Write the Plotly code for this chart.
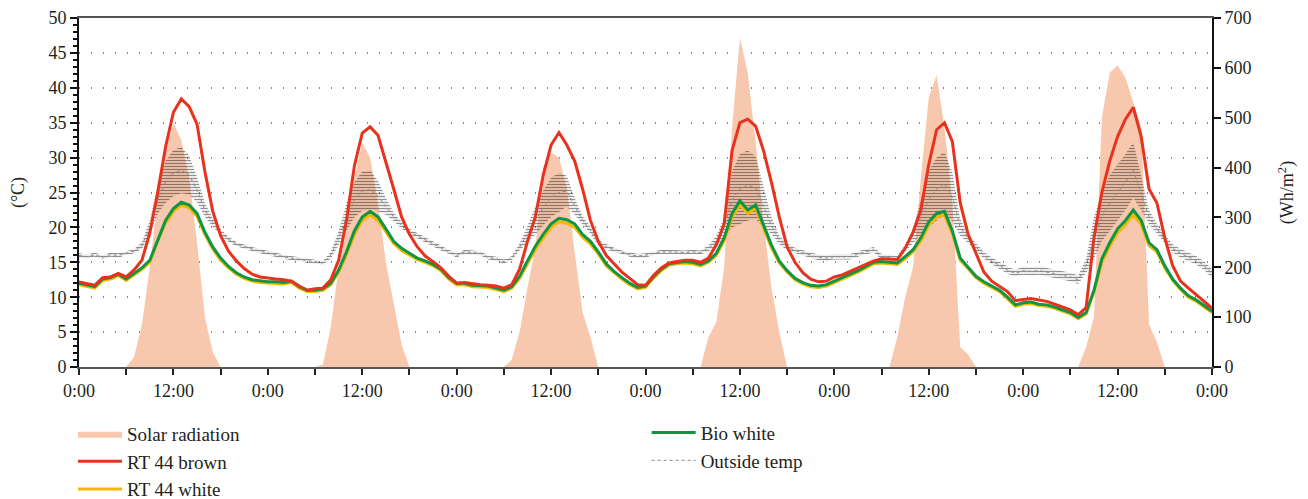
import plotly.graph_objects as go

# x positions: hours since the first midnight (6 days, hourly readings)
hours = list(range(145))

# time-axis ticks: labels every 12 h, minor ticks every 6 h
tick_hours = list(range(0, 145, 12))
tick_labels = ["0:00", "12:00"] * 6 + ["0:00"]
minor_tick_hours = list(range(6, 145, 12))

# Solar radiation (Wh/m2), right axis
solar = [
    0, 0, 0, 0, 0, 0, 0, 20, 85, 200, 340, 430, 490, 455, 380, 250, 100, 30, 0, 0, 0, 0, 0, 0,
    0, 0, 0, 0, 0, 0, 0, 5, 80, 200, 275, 380, 450, 420, 330, 210, 130, 45, 0, 0, 0, 0, 0, 0,
    0, 0, 0, 0, 0, 0, 0, 15, 70, 160, 240, 400, 430, 420, 360, 230, 110, 60, 0, 0, 0, 0, 0, 0,
    0, 0, 0, 0, 0, 0, 0, 0, 60, 90, 200, 480, 660, 590, 450, 290, 160, 70, 0, 0, 0, 0, 0, 0,
    0, 0, 0, 0, 0, 0, 0, 0, 60, 140, 200, 380, 540, 585, 480, 330, 40, 25, 0, 0, 0, 0, 0, 0,
    0, 0, 0, 0, 0, 0, 0, 0, 40, 100, 500, 590, 605, 580, 530, 480, 85, 50, 0, 0, 0, 0, 0, 0,
    0,
]

# RT 44 brown (degC)
rt44_brown = [
    12.2, 12.0, 11.7, 12.8, 12.9, 13.4, 12.9, 13.9, 15.3, 19.2, 25.0, 31.5, 36.5, 38.4, 37.3, 34.8, 28.0, 22.3, 18.8, 16.6, 15.2, 14.1, 13.3, 12.9,
    12.7, 12.6, 12.5, 12.3, 11.6, 11.0, 11.2, 11.3, 12.5, 15.3, 21.0, 28.8, 33.5, 34.4, 33.2, 29.5, 25.5, 21.5, 19.0, 17.2, 15.9, 15.1, 14.2, 13.0,
    12.0, 12.1, 11.9, 11.8, 11.7, 11.6, 11.3, 11.8, 14.0, 18.0, 21.5, 27.5, 31.8, 33.6, 31.8, 29.5, 25.5, 21.0, 18.0, 16.0, 14.8, 13.6, 12.7, 11.8,
    11.7, 13.1, 14.2, 14.9, 15.1, 15.3, 15.3, 15.0, 15.6, 17.5, 20.5, 31.0, 35.0, 35.5, 34.5, 31.0, 26.5, 21.5, 17.2, 15.0, 13.5, 12.6, 12.2, 12.3,
    12.9, 13.2, 13.7, 14.2, 14.6, 15.2, 15.5, 15.4, 15.4, 17.0, 19.3, 22.5, 29.0, 34.0, 35.0, 32.3, 23.5, 19.0, 16.2, 13.6, 12.3, 11.6, 10.8, 9.5,
    9.6, 9.8, 9.6, 9.4, 9.0, 8.6, 8.2, 7.5, 8.5, 18.5, 25.0, 29.5, 33.0, 35.5, 37.2, 33.0, 25.5, 23.5, 18.5, 14.5, 12.3, 11.3, 10.4, 9.4,
    8.4,
]

# RT 44 white (degC)
rt44_white = [
    11.8, 11.6, 11.3, 12.4, 12.6, 13.1, 12.4, 13.2, 14.0, 15.0, 18.0, 20.6, 22.3, 23.2, 22.8, 21.6, 19.0, 16.9, 15.3, 14.2, 13.3, 12.7, 12.3, 12.1,
    12.0, 12.0, 11.9, 12.1, 11.3, 10.8, 10.8, 11.0, 11.8, 13.6, 16.1, 19.0, 21.0, 21.8, 21.0, 19.4, 17.7, 16.7, 16.0, 15.4, 15.0, 14.5, 13.8, 12.6,
    11.8, 11.8, 11.5, 11.4, 11.4, 11.1, 10.8, 11.3, 12.7, 14.8, 16.8, 18.5, 20.0, 20.8, 20.6, 20.0, 18.6, 17.6, 16.2, 14.5, 13.5, 12.6, 11.8, 11.2,
    11.4, 12.7, 13.8, 14.6, 14.8, 14.9, 14.8, 14.5, 15.0, 16.0, 18.1, 21.5, 23.2, 22.0, 22.8, 19.8, 17.1, 14.9, 13.6, 12.5, 11.9, 11.5, 11.4, 11.6,
    12.1, 12.5, 13.1, 13.6, 14.2, 14.8, 14.9, 14.8, 14.7, 15.5, 16.5, 18.1, 20.3, 21.5, 21.8, 19.1, 15.3, 14.1, 12.8, 12.0, 11.4, 10.8, 9.8, 8.7,
    9.0, 9.1, 8.8, 8.7, 8.4, 8.0, 7.6, 6.9, 7.6, 10.7, 15.0, 17.3, 19.2, 20.4, 21.8, 20.4, 17.4, 16.5, 14.2, 12.4, 11.1, 10.0, 9.4, 8.6,
    7.8,
]

# Bio white (degC)
bio_white = [
    12.0, 11.8, 11.5, 12.6, 12.8, 13.3, 12.6, 13.4, 14.2, 15.3, 18.3, 21.0, 22.7, 23.6, 23.2, 22.0, 19.3, 17.2, 15.6, 14.4, 13.5, 12.9, 12.5, 12.3,
    12.2, 12.2, 12.1, 12.3, 11.5, 11.0, 11.0, 11.2, 12.0, 13.9, 16.5, 19.5, 21.5, 22.3, 21.5, 19.8, 18.0, 17.0, 16.3, 15.6, 15.2, 14.7, 14.0, 12.8,
    12.0, 12.0, 11.7, 11.6, 11.6, 11.3, 11.0, 11.5, 13.0, 15.2, 17.3, 19.0, 20.5, 21.3, 21.1, 20.5, 19.0, 18.0, 16.5, 14.8, 13.7, 12.8, 12.0, 11.4,
    11.6, 12.9, 14.0, 14.8, 15.0, 15.1, 15.0, 14.7, 15.2, 16.3, 18.5, 22.0, 23.8, 22.5, 23.2, 20.3, 17.5, 15.2, 13.8, 12.7, 12.1, 11.7, 11.6, 11.8,
    12.3, 12.7, 13.3, 13.8, 14.4, 15.0, 15.1, 15.0, 14.9, 15.8, 16.8, 18.5, 20.8, 22.0, 22.3, 19.5, 15.6, 14.3, 13.0, 12.2, 11.6, 11.0, 10.0, 8.9,
    9.2, 9.3, 9.0, 8.9, 8.6, 8.2, 7.8, 7.1, 7.8, 11.0, 15.5, 17.8, 19.8, 21.0, 22.5, 21.0, 17.8, 16.8, 14.5, 12.6, 11.3, 10.2, 9.6, 8.8,
    8.0,
]

# Outside temperature (degC) and the half-width of its scatter
outside_temp = [
    16.0, 15.8, 16.1, 15.7, 16.1, 16.0, 16.3, 16.6, 17.4, 20.0, 24.0, 26.5, 27.8, 28.2, 27.5, 25.4, 22.5, 20.7, 19.3, 18.3, 17.6, 17.2, 16.9, 16.6,
    16.3, 16.0, 15.8, 15.6, 15.4, 15.2, 15.0, 14.9, 16.0, 18.5, 21.5, 24.0, 25.2, 25.4, 24.5, 23.0, 21.5, 20.3, 19.4, 18.8, 18.2, 17.6, 17.0, 16.5,
    16.0, 16.5, 16.4, 16.3, 15.7, 15.5, 15.1, 15.6, 17.2, 19.0, 21.0, 22.8, 24.3, 25.0, 25.2, 23.0, 21.0, 19.6, 17.8, 17.2, 16.8, 16.4, 16.1, 15.9,
    16.0, 16.3, 16.5, 16.5, 16.4, 16.4, 16.5, 16.4, 17.0, 18.0, 20.0, 24.0, 25.5, 26.0, 25.7, 23.0, 20.3, 18.2, 17.2, 16.7, 16.3, 16.0, 15.7, 15.6,
    15.8, 15.8, 15.8, 16.2, 16.5, 16.8, 15.8, 15.7, 15.5, 17.0, 18.8, 21.5, 24.0, 25.5, 26.3, 24.4, 20.0, 18.4, 17.2, 16.0, 15.2, 14.5, 13.9, 13.4,
    13.8, 13.7, 13.8, 13.6, 13.4, 13.2, 12.9, 12.5, 14.5, 18.5, 21.5, 23.5, 25.0, 26.5, 28.2, 25.0, 21.5, 19.8, 18.3, 17.0, 16.3, 15.8, 15.3, 14.5,
    13.4,
]
outside_spread = [
    0.3, 0.3, 0.3, 0.3, 0.3, 0.3, 0.3, 0.3, 0.5, 1.0, 2.0, 3.0, 3.3, 3.3, 2.8, 1.8, 1.0, 0.6, 0.4, 0.4, 0.3, 0.3, 0.3, 0.3,
    0.3, 0.3, 0.3, 0.3, 0.3, 0.3, 0.3, 0.3, 0.5, 1.0, 2.0, 2.5, 2.8, 2.8, 2.2, 1.2, 0.6, 0.5, 0.4, 0.4, 0.4, 0.4, 0.3, 0.3,
    0.3, 0.3, 0.3, 0.3, 0.3, 0.3, 0.3, 0.3, 0.5, 1.2, 2.0, 2.5, 2.8, 2.8, 2.2, 1.2, 0.6, 0.5, 0.4, 0.4, 0.3, 0.3, 0.3, 0.3,
    0.3, 0.3, 0.3, 0.3, 0.3, 0.3, 0.3, 0.3, 0.4, 0.8, 1.5, 4.0, 5.0, 5.0, 4.5, 3.0, 1.2, 0.6, 0.5, 0.4, 0.4, 0.4, 0.4, 0.4,
    0.4, 0.4, 0.4, 0.4, 0.4, 0.4, 0.4, 0.4, 0.4, 0.5, 1.0, 2.5, 4.0, 4.5, 4.5, 3.5, 1.2, 0.6, 0.5, 0.5, 0.5, 0.5, 0.5, 0.5,
    0.6, 0.6, 0.6, 0.6, 0.6, 0.6, 0.6, 0.6, 1.0, 3.0, 3.5, 4.0, 4.0, 4.0, 4.0, 2.5, 1.0, 0.7, 0.6, 0.6, 0.6, 0.6, 0.6, 0.6,
    0.6,
]

FONT = "Liberation Serif"
TXT = "#231F20"

outside_low = [t - s for t, s in zip(outside_temp, outside_spread)]
outside_high = [t + s for t, s in zip(outside_temp, outside_spread)]

fig = go.Figure()

fig.add_trace(go.Scatter(
    x=hours, y=solar, name="Solar radiation", yaxis="y", mode="lines",
    line=dict(width=0, color="#F8C8AE"), fill="tozeroy", fillcolor="#F8C8AE",
    legend="legend", legendrank=1,
))
fig.add_trace(go.Scatter(
    x=hours, y=outside_low, yaxis="y2", mode="lines", line=dict(width=0, color="rgba(0,0,0,0)"),
    showlegend=False, hoverinfo="skip",
))
fig.add_trace(go.Scatter(
    x=hours, y=outside_high, yaxis="y2", mode="lines", line=dict(width=0, color="rgba(0,0,0,0)"),
    fill="tonexty", fillcolor="rgba(0,0,0,0)",
    fillpattern=dict(shape="-", fgcolor="rgba(10,10,10,0.9)", bgcolor="rgba(0,0,0,0)", size=3, solidity=0.45),
    showlegend=False, hoverinfo="skip",
))
fig.add_trace(go.Scatter(
    x=hours, y=outside_temp, name="Outside temp", yaxis="y2", mode="lines",
    line=dict(width=1, color="#8A8A8A", dash="dot"),
    legend="legend2", legendrank=2,
))
fig.add_trace(go.Scatter(
    x=hours, y=rt44_white, name="RT 44 white", yaxis="y2", mode="lines",
    line=dict(width=3, color="#F5B800"), legend="legend", legendrank=3,
))
fig.add_trace(go.Scatter(
    x=hours, y=bio_white, name="Bio white", yaxis="y2", mode="lines",
    line=dict(width=3, color="#0F9644"), legend="legend2", legendrank=1,
))
fig.add_trace(go.Scatter(
    x=hours, y=rt44_brown, name="RT 44 brown", yaxis="y2", mode="lines",
    line=dict(width=3, color="#E8321E"), legend="legend", legendrank=2,
))

tickfont = dict(family=FONT, size=18, color=TXT)
legfont = dict(family=FONT, size=19, color=TXT)

fig.update_layout(
    width=1308, height=499,
    margin=dict(l=79, r=96, t=18, b=132, autoexpand=False),
    paper_bgcolor="white", plot_bgcolor="white",
    font=dict(family=FONT, size=18, color=TXT),
    xaxis=dict(
        range=[0, 144], tickmode="array", tickvals=tick_hours, ticktext=tick_labels,
        ticks="outside", ticklen=6, tickwidth=2, tickcolor="#222",
        minor=dict(tickmode="array", tickvals=minor_tick_hours, ticks="outside", ticklen=6,
                   tickwidth=2, tickcolor="#222", showgrid=False),
        showline=True, linecolor="#555", linewidth=2, mirror=True,
        showgrid=False, zeroline=False, tickfont=tickfont, tickangle=0,
    ),
    yaxis=dict(
        side="right", range=[0, 700], dtick=100,
        ticks="outside", ticklen=7, tickwidth=2, tickcolor="#111",
        showline=True, linecolor="#111", linewidth=2,
        showgrid=False, zeroline=False, tickfont=tickfont,
        title=dict(text="(Wh/m<sup>2</sup>)", font=dict(family=FONT, size=18, color=TXT), standoff=30),
    ),
    yaxis2=dict(
        overlaying="y", side="left", range=[0, 50], dtick=5,
        ticks="outside", ticklen=7, tickwidth=2, tickcolor="#111",
        minor=dict(dtick=1, ticks="outside", ticklen=4, tickwidth=1.5, tickcolor="#111", showgrid=False),
        showline=True, linecolor="#111", linewidth=2,
        showgrid=True, gridcolor="#888", gridwidth=1.5, griddash="1px,11px",
        zeroline=False, tickfont=tickfont,
        title=dict(text="(°C)", font=dict(family=FONT, size=18, color=TXT), standoff=19),
    ),
    legend=dict(
        x=-0.0053, y=-0.137, xanchor="left", yanchor="top", traceorder="normal",
        orientation="v", font=legfont, itemwidth=44, tracegroupgap=0, bgcolor="rgba(0,0,0,0)",
    ),
    legend2=dict(
        x=0.501, y=-0.134, xanchor="left", yanchor="top", traceorder="normal",
        orientation="v", font=legfont, itemwidth=44, tracegroupgap=0, bgcolor="rgba(0,0,0,0)",
    ),
    showlegend=True,
)

fig.write_html("out.html")
